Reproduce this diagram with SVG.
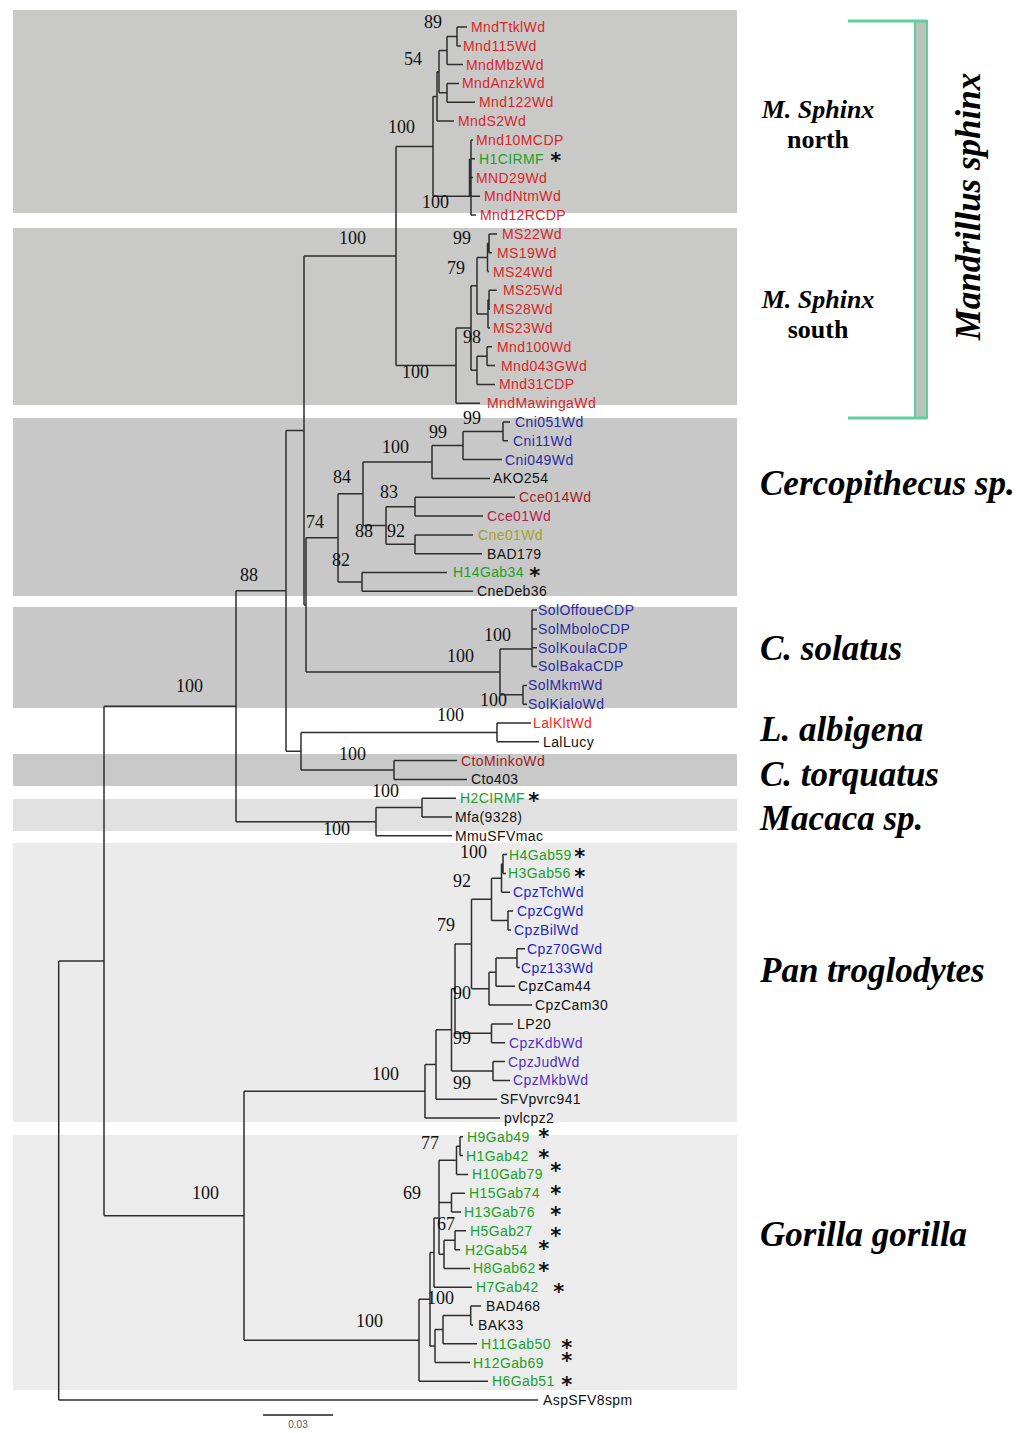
<svg xmlns="http://www.w3.org/2000/svg" width="1024" height="1433" viewBox="0 0 1024 1433">
<style>
.lf{font-family:"Liberation Sans",Arial,sans-serif;font-size:14px;letter-spacing:0.4px}
.r{fill:#d8262a}.rb{fill:#ff2222}.g{fill:#20a02a}.b{fill:#2b2ba2}.b2{fill:#2626c8}.p{fill:#5230c4}.dr{fill:#a01e1e}.cr{fill:#b02050}.o{fill:#a2a22a}.k{fill:#111}
.ast{font-family:"DejaVu Sans",sans-serif;font-size:21px;font-weight:bold;fill:#111;text-anchor:middle}
.bs{font-family:"Liberation Serif","Times New Roman",serif;font-size:18px;fill:#111}
.cl{font-family:"Liberation Serif","Times New Roman",serif;font-size:35px;font-weight:bold;font-style:italic;fill:#000}
.ms{font-family:"Liberation Serif","Times New Roman",serif;font-size:26px;font-weight:bold;fill:#000;text-anchor:middle}
.tree{fill:none;stroke:#2e2e2e;stroke-width:1.5}
</style>
<rect width="1024" height="1433" fill="#fff"/>
<g id="bands">
<rect x="13" y="10" width="724" height="203" fill="#c9cac8"/>
<rect x="13" y="228" width="724" height="177" fill="#c9cac8"/>
<rect x="13" y="418" width="724" height="178" fill="#c8c8c8"/>
<rect x="13" y="607" width="724" height="101" fill="#c8c8c8"/>
<rect x="13" y="754" width="724" height="32" fill="#c9c9c9"/>
<rect x="13" y="799" width="724" height="32" fill="#e1e1e1"/>
<rect x="13" y="843" width="724" height="279" fill="#ebebeb"/>
<rect x="13" y="1135" width="724" height="255" fill="#ececec"/>
</g>
<g id="connectors" class="tree">
<path d="M457 27V46M457 27H467M457 46H461M447 36.5V64.6M447 36.5H457M447 64.6H463M447 83.4V102.2M447 83.4H459M447 102.2H475M439 50.5V92.8M439 50.5H447M439 92.8H447M437 71.7V121.1M437 71.7H439M437 121.1H454M433 96.4V196.3M433 96.4H437M433 196.3H471M471 139.9V215.1M471 139.9H473M471 158.7H475M471 177.5H473M471 196.3H480M471 215.1H476M469.5 158.7V196.3M396 146.4V365.6M396 146.4H433M396 365.6H456M304 256H396"/>
<path d="M489 233.9V252.7M489 233.9H497M489 252.7H492M487.5 243.3V271.5M487.5 243.3H489M487.5 271.5H489M489 290.3V309.2M489 290.3H497M489 309.2H490M488 299.8V328M488 299.8H489M488 328H490M477 257.4V313.9M477 257.4H487.5M477 313.9H488M487 346.8V365.6M487 346.8H492M487 365.6H495M477 356.2V384.4M477 356.2H487M477 384.4H495M471 285.7V370.3M471 285.7H477M471 370.3H477M456 328V403.2M456 328H471M456 403.2H480"/>
<path d="M503 422V440.8M503 422H510M503 440.8H508M463 431.4V459.6M463 431.4H503M463 459.6H502M432 445.5V478.4M432 445.5H463M432 478.4H490M415 497.3V516.1M415 497.3H515M415 516.1H483M415 534.9V553.7M415 534.9H473M415 553.7H482M386 506.7V544.3M386 506.7H415M386 544.3H415M363 462V525.5M363 462H432M363 525.5H386M362 572.5V591.3M362 572.5H447M362 591.3H473M338 493.7V581.9M338 493.7H363M338 581.9H362M306 537.8V671.9M306 537.8H338M306 671.9H500"/>
<path d="M532 610.1V666.5M532 610.1H537M532 628.9H537M532 647.7H537M532 666.5H537M523 685.4V704.2M523 685.4H527M523 704.2H527M500 649V694.8M500 649H532M500 694.8H523M304 256V604.9M304 604.9H306M286 430.5V751.2M286 430.5H304M286 751.2H301M497 723V741.8M497 723H531M497 741.8H539M394 760.6V779.4M394 760.6H457M394 779.4H467M301 732.4V770M301 732.4H497M301 770H394M422 798.2V817M422 798.2H456M422 817H452M376 807.6V835.8M376 807.6H422M376 835.8H452M236 590.8V821.7M236 590.8H286M236 821.7H376M104 706.3V1215.8M104 706.3H236M104 1215.8H244"/>
<path d="M503 854.6V873.5M503 854.6H507M503 873.5H506M501.5 864V892.3M501.5 864H503M501.5 892.3H510M508 911.1V929.9M508 911.1H513M508 929.9H511M491.5 878.2V920.5M491.5 878.2H501.5M491.5 920.5H508M517 948.7V967.5M517 948.7H525M517 967.5H520M496 958.1V986.3M496 958.1H517M496 986.3H515M489 972.2V1005.1M489 972.2H496M489 1005.1H532M471.5 899.3V988.7M471.5 899.3H491.5M471.5 988.7H489M491.5 1023.9V1042.7M491.5 1023.9H513M491.5 1042.7H505M455 944V1033.3M455 944H471.5M455 1033.3H491.5M493 1061.6V1080.4M493 1061.6H505M493 1080.4H510M451.5 988.7V1071M451.5 988.7H455M451.5 1071H493M436 1029.8V1099.2M436 1029.8H451.5M436 1099.2H497M425 1064.5V1118M425 1064.5H436M425 1118H500"/>
<path d="M460 1136.8V1155.6M460 1136.8H463M460 1155.6H463M456.5 1146.2V1174.4M456.5 1146.2H460M456.5 1174.4H468M451.5 1193.2V1212M451.5 1193.2H465M451.5 1212H461M455 1230.8V1249.7M455 1230.8H466M455 1249.7H460M444 1240.2V1268.5M444 1240.2H455M444 1268.5H470M439 1160.3V1254.3M439 1160.3H456.5M439 1202.6H451.5M439 1254.3H444M434 1217.9V1287.3M434 1217.9H439M434 1287.3H472M470.7 1306.1V1324.9M470.7 1306.1H481M470.7 1324.9H473M443 1315.5V1343.7M443 1315.5H470.7M443 1343.7H477M435 1329.6V1362.5M435 1329.6H443M435 1362.5H470M430 1252.6V1346M430 1252.6H434M430 1346H435M419 1299.3V1381.3M419 1299.3H430M419 1381.3H488M244 1091.3V1340.3M244 1091.3H425M244 1340.3H419M58.7 961V1400.1M58.7 961H104M58.7 1400.1H538"/>
</g>
<g id="leaves" class="lf">
<g id="n-MndTtklWd"><text x="471" y="32" class="r">MndTtklWd</text></g>
<g id="n-Mnd115Wd"><text x="463" y="51" class="r">Mnd115Wd</text></g>
<g id="n-MndMbzWd"><text x="466" y="70" class="r">MndMbzWd</text></g>
<g id="n-MndAnzkWd"><text x="462" y="88" class="r">MndAnzkWd</text></g>
<g id="n-Mnd122Wd"><text x="479" y="107" class="r">Mnd122Wd</text></g>
<g id="n-MndS2Wd"><text x="458" y="126" class="r">MndS2Wd</text></g>
<g id="n-Mnd10MCDP"><text x="476" y="145" class="r">Mnd10MCDP</text></g>
<g id="n-H1CIRMF"><text x="479" y="164" class="g">H1CIRMF</text><text x="556" y="168" class="ast">*</text></g>
<g id="n-MND29Wd"><text x="476" y="183" class="r">MND29Wd</text></g>
<g id="n-MndNtmWd"><text x="484" y="201" class="r">MndNtmWd</text></g>
<g id="n-Mnd12RCDP"><text x="480" y="220" class="r">Mnd12RCDP</text></g>
<g id="n-MS22Wd"><text x="502" y="239" class="r">MS22Wd</text></g>
<g id="n-MS19Wd"><text x="497" y="258" class="r">MS19Wd</text></g>
<g id="n-MS24Wd"><text x="493" y="277" class="r">MS24Wd</text></g>
<g id="n-MS25Wd"><text x="503" y="295" class="r">MS25Wd</text></g>
<g id="n-MS28Wd"><text x="493" y="314" class="r">MS28Wd</text></g>
<g id="n-MS23Wd"><text x="493" y="333" class="r">MS23Wd</text></g>
<g id="n-Mnd100Wd"><text x="497" y="352" class="r">Mnd100Wd</text></g>
<g id="n-Mnd043GWd"><text x="501" y="371" class="r">Mnd043GWd</text></g>
<g id="n-Mnd31CDP"><text x="499" y="389" class="r">Mnd31CDP</text></g>
<g id="n-MndMawingaWd"><text x="487" y="408" class="r">MndMawingaWd</text></g>
<g id="n-Cni051Wd"><text x="515" y="427" class="b">Cni051Wd</text></g>
<g id="n-Cni11Wd"><text x="513" y="446" class="b">Cni11Wd</text></g>
<g id="n-Cni049Wd"><text x="505" y="465" class="b">Cni049Wd</text></g>
<g id="n-AKO254"><text x="493" y="483" class="k">AKO254</text></g>
<g id="n-Cce014Wd"><text x="519" y="502" class="dr">Cce014Wd</text></g>
<g id="n-Cce01Wd"><text x="487" y="521" class="cr">Cce01Wd</text></g>
<g id="n-Cne01Wd"><text x="478" y="540" class="o">Cne01Wd</text></g>
<g id="n-BAD179"><text x="487" y="559" class="k">BAD179</text></g>
<g id="n-H14Gab34"><text x="453" y="577" class="g">H14Gab34</text><text x="535" y="583" class="ast">*</text></g>
<g id="n-CneDeb36"><text x="477" y="596" class="k">CneDeb36</text></g>
<g id="n-SolOffoueCDP"><text x="538" y="615" class="b">SolOffoueCDP</text></g>
<g id="n-SolMboloCDP"><text x="538" y="634" class="b">SolMboloCDP</text></g>
<g id="n-SolKoulaCDP"><text x="538" y="653" class="b">SolKoulaCDP</text></g>
<g id="n-SolBakaCDP"><text x="538" y="671" class="b">SolBakaCDP</text></g>
<g id="n-SolMkmWd"><text x="528" y="690" class="b">SolMkmWd</text></g>
<g id="n-SolKialoWd"><text x="528" y="709" class="b">SolKialoWd</text></g>
<g id="n-LalKltWd"><text x="533" y="728" class="rb">LalKltWd</text></g>
<g id="n-LalLucy"><text x="543" y="747" class="k">LalLucy</text></g>
<g id="n-CtoMinkoWd"><text x="461" y="766" class="dr">CtoMinkoWd</text></g>
<g id="n-Cto403"><text x="471" y="784" class="k">Cto403</text></g>
<g id="n-H2CIRMF"><text x="460" y="803" class="g">H2CIRMF</text><text x="534" y="808" class="ast">*</text></g>
<g id="n-Mfa9328"><text x="455" y="822" class="k">Mfa(9328)</text></g>
<g id="n-MmuSFVmac"><text x="455" y="841" class="k">MmuSFVmac</text></g>
<g id="n-H4Gab59"><text x="509" y="860" class="g">H4Gab59</text><text x="580" y="864" class="ast">*</text></g>
<g id="n-H3Gab56"><text x="508" y="878" class="g">H3Gab56</text><text x="580" y="884" class="ast">*</text></g>
<g id="n-CpzTchWd"><text x="513" y="897" class="b2">CpzTchWd</text></g>
<g id="n-CpzCgWd"><text x="517" y="916" class="b2">CpzCgWd</text></g>
<g id="n-CpzBilWd"><text x="514" y="935" class="b2">CpzBilWd</text></g>
<g id="n-Cpz70GWd"><text x="527" y="954" class="b2">Cpz70GWd</text></g>
<g id="n-Cpz133Wd"><text x="521" y="973" class="b2">Cpz133Wd</text></g>
<g id="n-CpzCam44"><text x="518" y="991" class="k">CpzCam44</text></g>
<g id="n-CpzCam30"><text x="535" y="1010" class="k">CpzCam30</text></g>
<g id="n-LP20"><text x="517" y="1029" class="k">LP20</text></g>
<g id="n-CpzKdbWd"><text x="509" y="1048" class="p">CpzKdbWd</text></g>
<g id="n-CpzJudWd"><text x="508" y="1067" class="p">CpzJudWd</text></g>
<g id="n-CpzMkbWd"><text x="513" y="1085" class="p">CpzMkbWd</text></g>
<g id="n-SFVpvrc941"><text x="500" y="1104" class="k">SFVpvrc941</text></g>
<g id="n-pvlcpz2"><text x="504" y="1123" class="k">pvlcpz2</text></g>
<g id="n-H9Gab49"><text x="467" y="1142" class="g">H9Gab49</text><text x="544" y="1144" class="ast">*</text></g>
<g id="n-H1Gab42"><text x="466" y="1161" class="g">H1Gab42</text><text x="544" y="1165" class="ast">*</text></g>
<g id="n-H10Gab79"><text x="472" y="1179" class="g">H10Gab79</text><text x="556" y="1178" class="ast">*</text></g>
<g id="n-H15Gab74"><text x="469" y="1198" class="g">H15Gab74</text><text x="556" y="1201" class="ast">*</text></g>
<g id="n-H13Gab76"><text x="464" y="1217" class="g">H13Gab76</text><text x="556" y="1222" class="ast">*</text></g>
<g id="n-H5Gab27"><text x="470" y="1236" class="g">H5Gab27</text><text x="556" y="1243" class="ast">*</text></g>
<g id="n-H2Gab54"><text x="465" y="1255" class="g">H2Gab54</text><text x="544" y="1256" class="ast">*</text></g>
<g id="n-H8Gab62"><text x="473" y="1273" class="g">H8Gab62</text><text x="544" y="1278" class="ast">*</text></g>
<g id="n-H7Gab42"><text x="476" y="1292" class="g">H7Gab42</text><text x="559" y="1299" class="ast">*</text></g>
<g id="n-BAD468"><text x="486" y="1311" class="k">BAD468</text></g>
<g id="n-BAK33"><text x="478" y="1330" class="k">BAK33</text></g>
<g id="n-H11Gab50"><text x="481" y="1349" class="g">H11Gab50</text><text x="567" y="1355" class="ast">*</text></g>
<g id="n-H12Gab69"><text x="473" y="1368" class="g">H12Gab69</text><text x="567" y="1368" class="ast">*</text></g>
<g id="n-H6Gab51"><text x="492" y="1386" class="g">H6Gab51</text><text x="567" y="1392" class="ast">*</text></g>
<g id="n-AspSFV8spm"><text x="543" y="1405" class="k">AspSFV8spm</text></g>
</g>
<g id="bootstrap" class="bs">
<text x="424" y="28">89</text><text x="404" y="65">54</text><text x="388" y="133">100</text><text x="422" y="208">100</text>
<text x="339" y="244">100</text><text x="453" y="244">99</text><text x="447" y="274">79</text><text x="463" y="343">98</text><text x="402" y="378">100</text>
<text x="463" y="424">99</text><text x="429" y="438">99</text><text x="382" y="453">100</text><text x="333" y="483">84</text><text x="380" y="498">83</text>
<text x="355" y="537">88</text><text x="387" y="537">92</text><text x="306" y="528">74</text><text x="332" y="566">82</text><text x="240" y="581">88</text>
<text x="484" y="641">100</text><text x="447" y="662">100</text><text x="480" y="706">100</text><text x="176" y="692">100</text><text x="437" y="721">100</text>
<text x="339" y="760">100</text><text x="372" y="797">100</text><text x="323" y="835">100</text>
<text x="460" y="858">100</text><text x="453" y="887">92</text><text x="437" y="931">79</text><text x="453" y="999">90</text><text x="453" y="1044">99</text><text x="453" y="1089">99</text>
<text x="372" y="1080">100</text><text x="192" y="1199">100</text><text x="421" y="1149">77</text><text x="403" y="1199">69</text><text x="437" y="1230">67</text><text x="427" y="1304">100</text><text x="356" y="1327">100</text>
</g>
<g id="scale">
<path d="M263 1415H333" stroke="#555" stroke-width="2"/>
<text x="298" y="1428" font-family="Liberation Sans, Arial, sans-serif" font-size="10" fill="#555" text-anchor="middle">0.03</text>
</g>
<g id="mandrillus-bracket">
<rect x="915" y="21" width="12" height="397" fill="#b9c3ba" stroke="#5fcf9f" stroke-width="2"/>
<path d="M848 21H927M848 418H927" stroke="#5fcf9f" stroke-width="3" fill="none"/>
<text transform="translate(980,206.5) rotate(-90)" class="cl" text-anchor="middle">Mandrillus sphinx</text>
</g>
<g id="group-labels">
<text x="818" y="118" class="ms" font-style="italic">M. Sphinx</text>
<text x="818" y="148" class="ms">north</text>
<text x="818" y="308" class="ms" font-style="italic">M. Sphinx</text>
<text x="818" y="338" class="ms">south</text>
<text x="760" y="495" class="cl">Cercopithecus sp.</text>
<text x="760" y="660" class="cl">C. solatus</text>
<text x="760" y="741" class="cl">L. albigena</text>
<text x="760" y="786" class="cl">C. torquatus</text>
<text x="760" y="830" class="cl">Macaca sp.</text>
<text x="760" y="982" class="cl">Pan troglodytes</text>
<text x="760" y="1246" class="cl">Gorilla gorilla</text>
</g>
</svg>
